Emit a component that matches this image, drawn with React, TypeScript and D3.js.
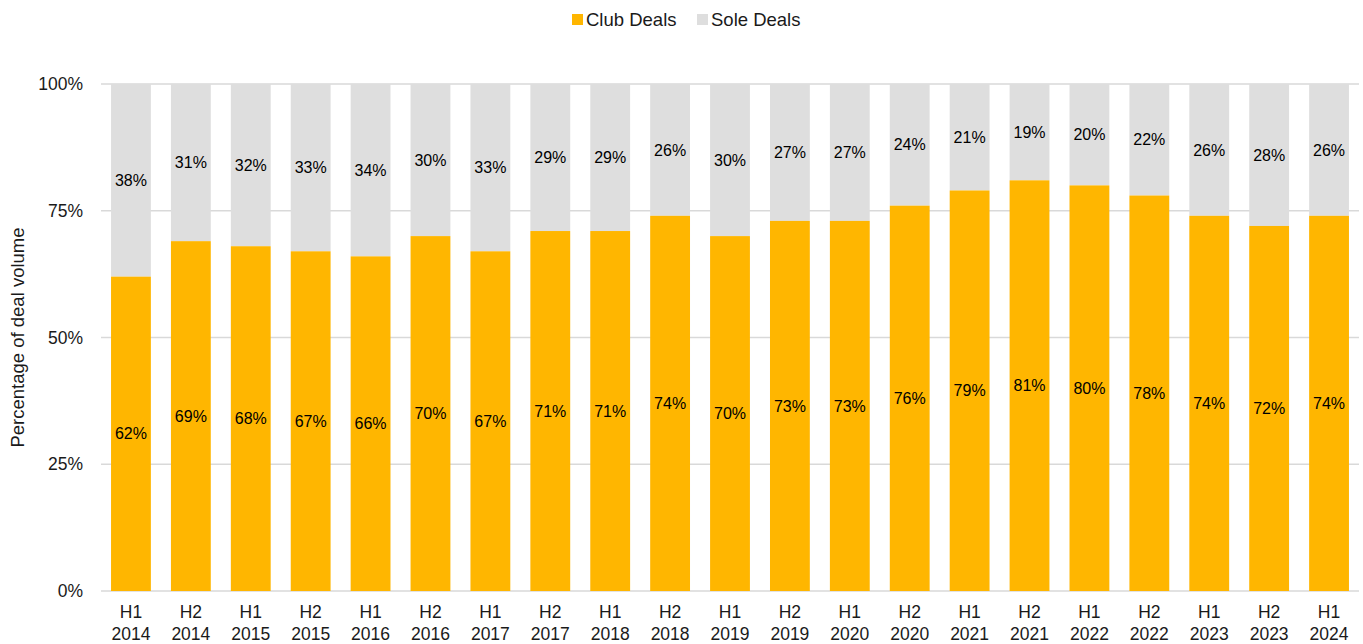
import React from "react";
import * as d3 from "d3";

const periods = ["H1 2014","H2 2014","H1 2015","H2 2015","H1 2016","H2 2016","H1 2017","H2 2017","H1 2018","H2 2018","H1 2019","H2 2019","H1 2020","H2 2020","H1 2021","H2 2021","H1 2022","H2 2022","H1 2023","H2 2023","H1 2024"];
const clubDeals = [62,69,68,67,66,70,67,71,71,74,70,73,73,76,79,81,80,78,74,72,74];
const soleDeals = [38,31,32,33,34,30,33,29,29,26,30,27,27,24,21,19,20,22,26,28,26];
const yTicks = [0,25,50,75,100];

const W = 1363, H = 644;
const CLUB = "#FFB600";
const SOLE = "#DEDEDE";
const FONT = "'Liberation Sans', Arial, sans-serif";

export default function App() {
  const x = d3.scaleBand<string>().domain(periods).range([101, 1359]).paddingInner(0.335).paddingOuter(0.1675);
  const y = d3.scaleLinear().domain([0, 100]).range([591, 84]);
  return (
    <svg width={W} height={H} style={{ position: "absolute", left: 0, top: 0, fontFamily: FONT }}>
      {yTicks.map(t => (
        <g key={t}>
          <line x1={101} x2={1359} y1={y(t)} y2={y(t)} stroke="#D9D9D9" strokeWidth={1.5} />
          <text x={83} y={y(t)} dy="0.35em" textAnchor="end" fontSize={17.5} fill="#1a1a1a">{t}%</text>
        </g>
      ))}
      {periods.map((p, i) => {
        const x0 = x(p)!;
        const bw = x.bandwidth();
        const cx = x0 + bw / 2;
        const [h, yr] = p.split(" ");
        return (
          <g key={p}>
            <rect x={x0} width={bw} y={y(clubDeals[i] + soleDeals[i])} height={y(clubDeals[i]) - y(clubDeals[i] + soleDeals[i])} fill={SOLE} />
            <rect x={x0} width={bw} y={y(clubDeals[i])} height={y(0) - y(clubDeals[i])} fill={CLUB} />
            <text x={cx} y={(y(0) + y(clubDeals[i])) / 2} dy="0.35em" textAnchor="middle" fontSize={16} fill="#000">{clubDeals[i]}%</text>
            <text x={cx} y={(y(clubDeals[i]) + y(clubDeals[i] + soleDeals[i])) / 2} dy="0.35em" textAnchor="middle" fontSize={16} fill="#000">{soleDeals[i]}%</text>
            <text x={cx} y={612} dy="0.35em" textAnchor="middle" fontSize={17.5} fill="#1a1a1a">{h}</text>
            <text x={cx} y={634} dy="0.35em" textAnchor="middle" fontSize={17.5} fill="#1a1a1a">{yr}</text>
          </g>
        );
      })}
      <text transform={`translate(18,${y(50)}) rotate(-90)`} textAnchor="middle" dy="0.35em" fontSize={18.5} fill="#1a1a1a">Percentage of deal volume</text>
      <g>
        <rect x={572} y={14} width={11} height={11} fill={CLUB} />
        <text x={586} y={20} dy="0.35em" fontSize={18.5} fill="#1a1a1a">Club Deals</text>
        <rect x={697} y={14} width={11} height={11} fill={SOLE} />
        <text x={711} y={20} dy="0.35em" fontSize={18.5} fill="#1a1a1a">Sole Deals</text>
      </g>
    </svg>
  );
}
